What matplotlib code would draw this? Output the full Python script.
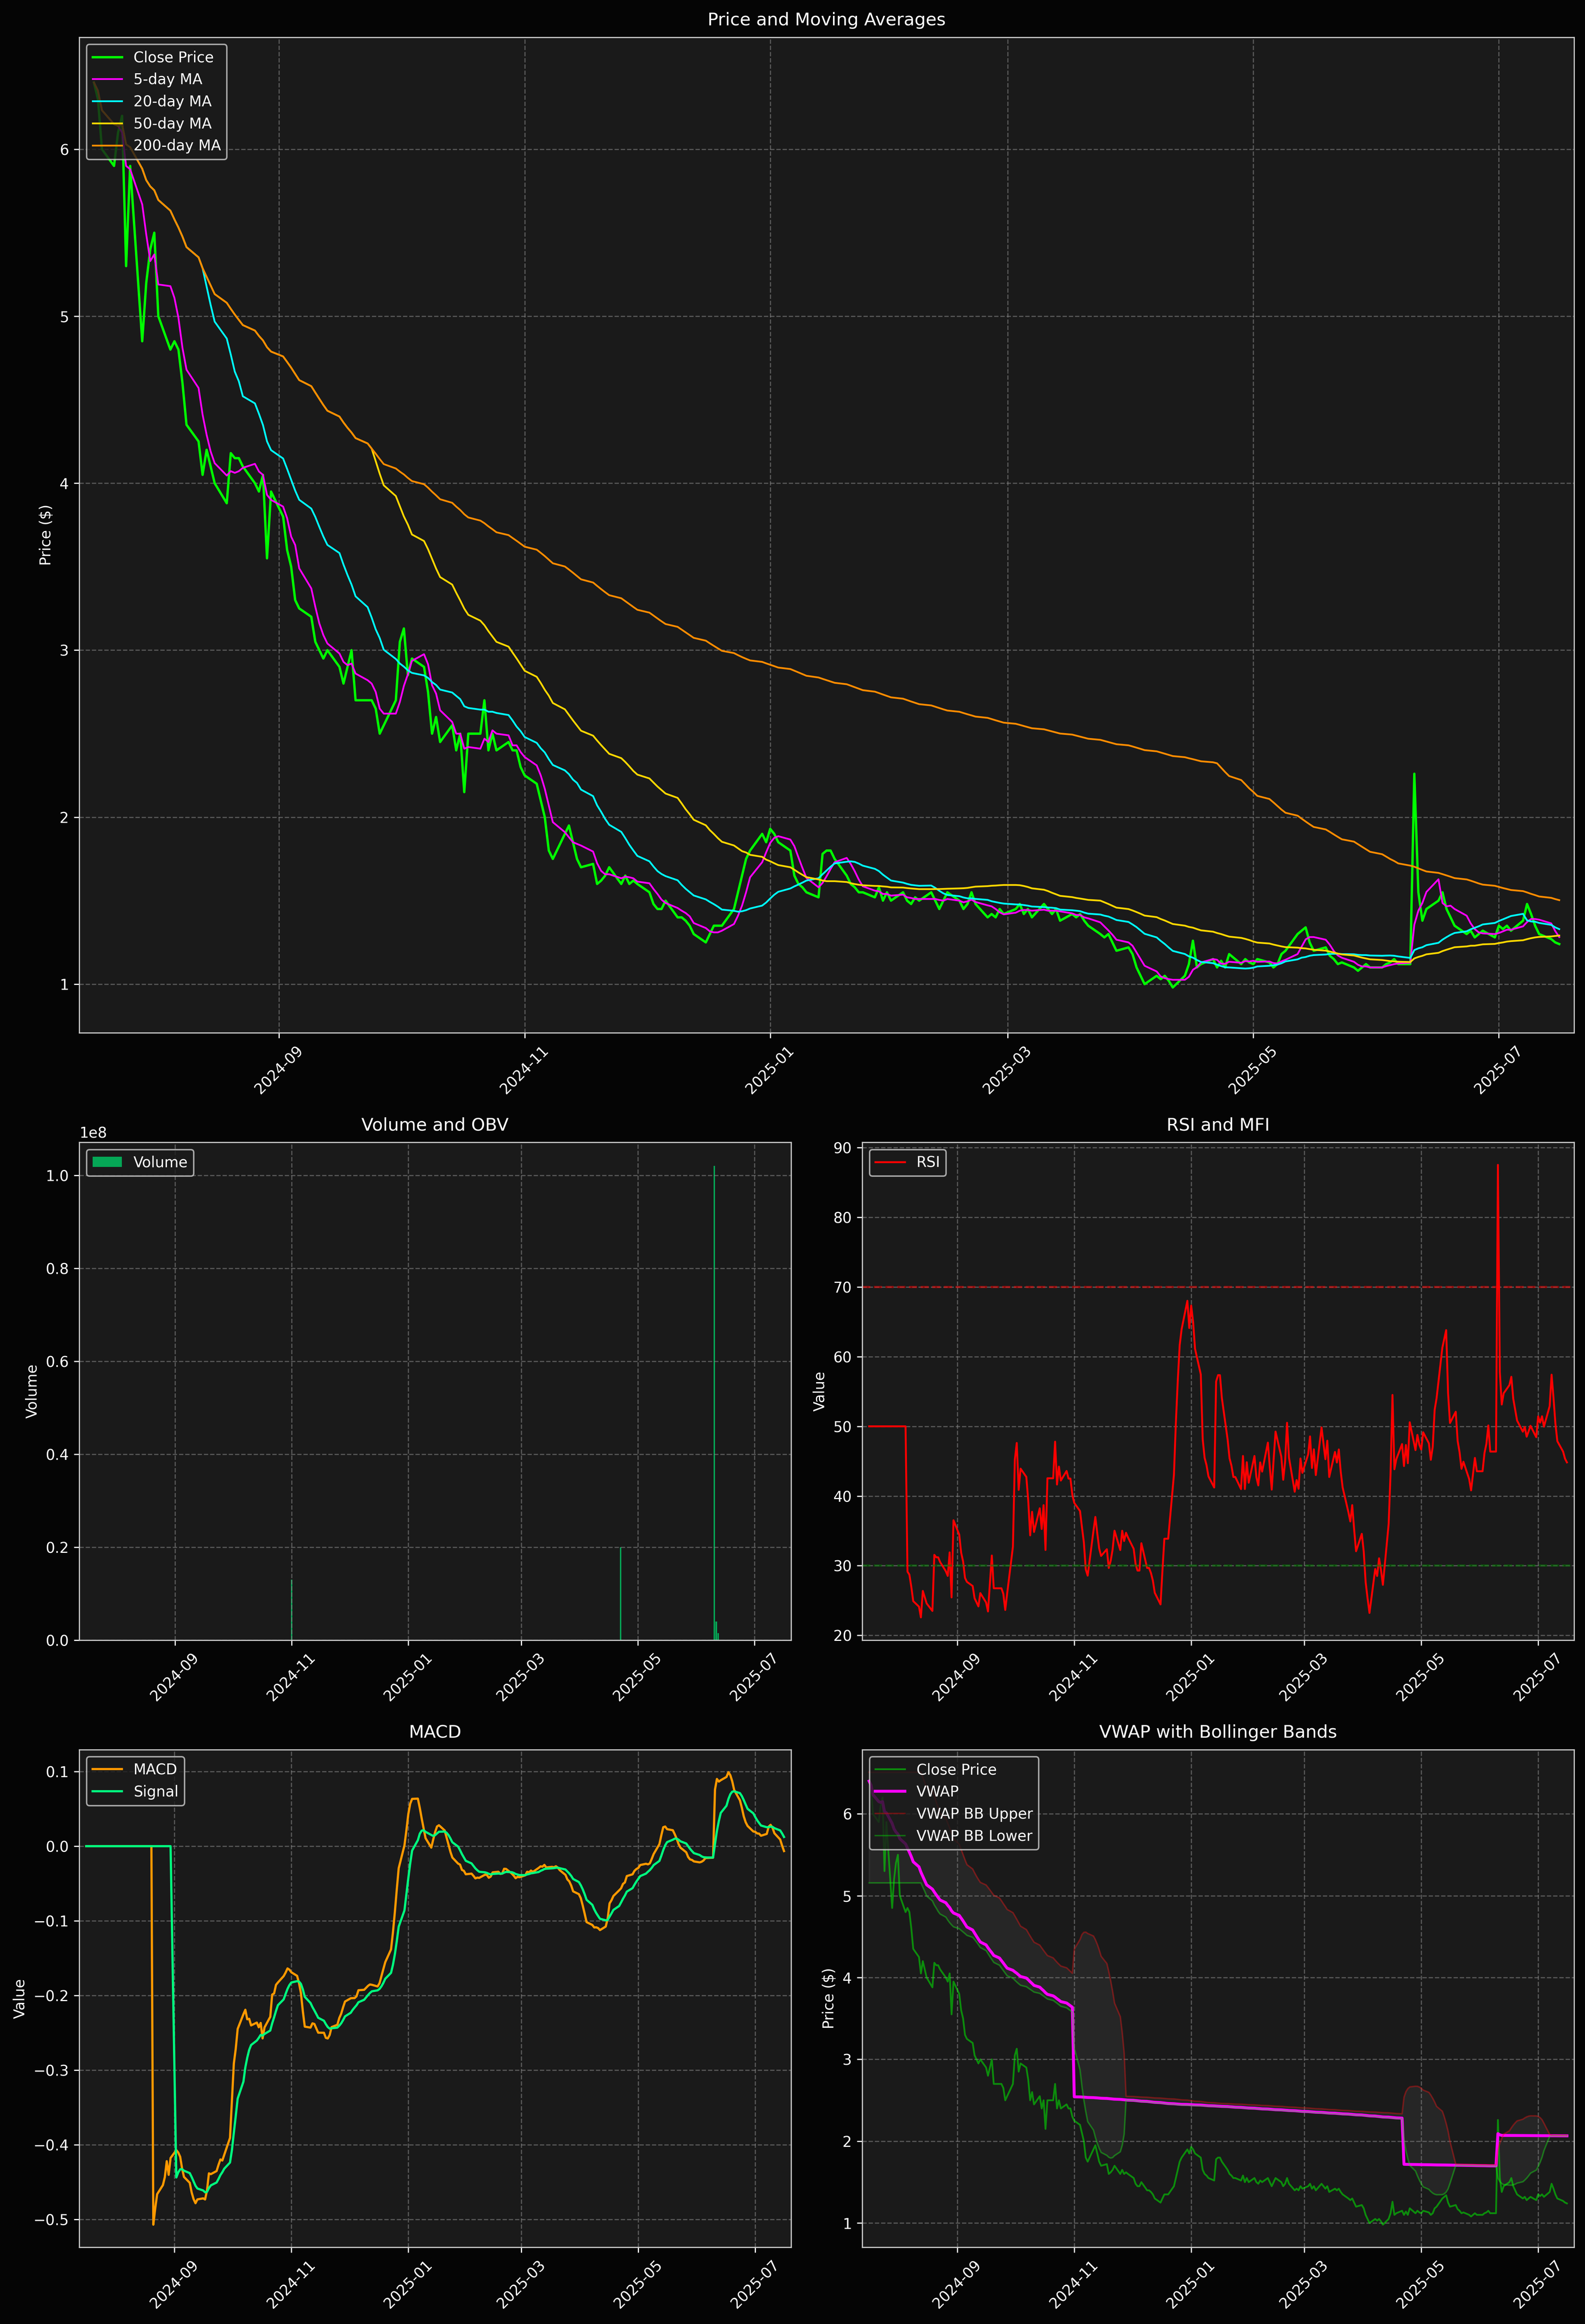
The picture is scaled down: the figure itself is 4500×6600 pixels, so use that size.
import numpy as np
import pandas as pd
import matplotlib
matplotlib.use("Agg")
import matplotlib.pyplot as plt
import matplotlib.dates as mdates

close = [6.4, 6.3, 6.0, 5.9, 6.1, 6.2, 5.3, 5.9, 4.85, 5.2, 5.4,
 5.5, 5.0, 4.8, 4.85, 4.8, 4.6, 4.35, 4.25, 4.05, 4.2, 4.1, 4.0, 3.88, 4.18, 4.15, 4.15, 4.1, 4.0, 3.95, 4.05, 3.55, 3.95,
 3.8, 3.6, 3.5, 3.3, 3.25, 3.2, 3.05, 3.0, 2.95, 3.0, 2.9, 2.8, 2.9, 3.0, 2.7, 2.7, 2.7, 2.65, 2.5, 2.55, 2.7,
 3.05, 3.13, 2.85, 2.95, 2.9, 2.75, 2.5, 2.6, 2.45, 2.55, 2.4, 2.5, 2.15, 2.5, 2.5, 2.7, 2.4, 2.5, 2.4, 2.45, 2.4, 2.4, 2.3,
 2.25, 2.2, 2.1, 2.0, 1.8, 1.75, 1.9, 1.95, 1.85, 1.75, 1.7, 1.72, 1.6, 1.62, 1.65, 1.7, 1.6, 1.65, 1.6, 1.62, 1.6,
 1.55, 1.48, 1.45, 1.45, 1.5, 1.4, 1.4, 1.38, 1.35, 1.3, 1.25, 1.3, 1.35, 1.35, 1.35, 1.45, 1.55, 1.65, 1.75, 1.8, 1.9, 1.85,
 1.93, 1.9, 1.85, 1.8, 1.65, 1.6, 1.58, 1.55, 1.52, 1.78, 1.8, 1.8, 1.75, 1.65, 1.6, 1.58, 1.55, 1.55, 1.52, 1.58, 1.5, 1.55, 1.5,
 1.55, 1.5, 1.48, 1.52, 1.5, 1.55, 1.5, 1.45, 1.5, 1.55, 1.5, 1.45, 1.48, 1.55, 1.48, 1.4, 1.42, 1.4, 1.45, 1.42,
 1.45, 1.48, 1.42, 1.45, 1.4, 1.48, 1.45, 1.42, 1.45, 1.38, 1.42, 1.4, 1.42, 1.38, 1.35, 1.3, 1.28, 1.3, 1.25, 1.2, 1.22,
 1.18, 1.1, 1.05, 1.0, 1.05, 1.03, 1.05, 1.02, 0.98, 1.05, 1.12, 1.26, 1.1, 1.12, 1.15, 1.1, 1.14, 1.1, 1.18, 1.12, 1.15, 1.13,
 1.12, 1.15, 1.13, 1.1, 1.12, 1.18, 1.2, 1.3, 1.32, 1.34, 1.25, 1.2, 1.22, 1.17, 1.15, 1.12, 1.13, 1.1, 1.08, 1.1, 1.12, 1.1,
 1.1, 1.12, 1.13, 1.15, 1.12, 1.12, 2.26, 1.55, 1.38, 1.45, 1.5, 1.55, 1.45, 1.4, 1.35, 1.3, 1.32, 1.28, 1.3, 1.32, 1.28,
 1.35, 1.33, 1.35, 1.32, 1.38, 1.48, 1.42, 1.35, 1.3, 1.27, 1.25, 1.24]

start_date = "2024-07-17"
base_volume = 45000
spike_dates = ["2024-11-01", "2025-04-22", "2025-06-10", "2025-06-11", "2025-06-12"]
spike_volumes = [1.3e7, 2.0e7, 1.02e8, 4.0e6, 1.5e6]

dates = pd.bdate_range(start_date, periods=len(close))
df = pd.DataFrame({"close": close}, index=dates)
df["volume"] = float(base_volume)
for d, v in zip(spike_dates, spike_volumes):
    df.loc[pd.Timestamp(d), "volume"] = v

c = df["close"]
ma5 = c.rolling(5, min_periods=1).mean()
ma20 = c.rolling(20, min_periods=1).mean()
ma50 = c.rolling(50, min_periods=1).mean()
ma200 = c.rolling(200, min_periods=1).mean()

delta = c.diff()
gain = delta.clip(lower=0).ewm(alpha=1/14, adjust=False, min_periods=14).mean()
loss = (-delta.clip(upper=0)).ewm(alpha=1/14, adjust=False, min_periods=14).mean()
rsi = (100 - 100 / (1 + gain / loss)).fillna(50)

ema12 = c.ewm(span=12, adjust=False, min_periods=26).mean()
ema26 = c.ewm(span=26, adjust=False, min_periods=26).mean()
macd_raw = ema12 - ema26
signal = macd_raw.ewm(span=9, adjust=False, min_periods=9).mean().fillna(0)
macd = macd_raw.fillna(0)

vwap = (c * df["volume"]).cumsum() / df["volume"].cumsum()
vm = vwap.rolling(20).mean()
vs = vwap.rolling(20).std()
bb_up = (vm + 2 * vs).bfill()
bb_lo = (vm - 2 * vs).bfill()

BG = "#050505"
AX = "#1a1a1a"
plt.rcParams.update({"text.color": "white", "axes.labelcolor": "white",
                     "xtick.color": "white", "ytick.color": "white",
                     "axes.edgecolor": "#cccccc", "font.size": 10})

fig = plt.figure(figsize=(15, 22), facecolor=BG)
gs = fig.add_gridspec(3, 2, height_ratios=[2, 1, 1], hspace=0.165, wspace=0.1,
                      left=0.05, right=0.993, top=0.984, bottom=0.033)
ax1 = fig.add_subplot(gs[0, :])
ax2 = fig.add_subplot(gs[1, 0])
ax3 = fig.add_subplot(gs[1, 1])
ax4 = fig.add_subplot(gs[2, 0])
ax5 = fig.add_subplot(gs[2, 1])

def style(ax, title, ylabel):
    ax.set_facecolor(AX)
    ax.set_title(title, fontsize=12, pad=8)
    ax.set_ylabel(ylabel)
    ax.grid(True, linestyle="--", color="gray", alpha=0.6)
    ax.xaxis.set_major_locator(mdates.MonthLocator(bymonth=[1, 3, 5, 7, 9, 11]))
    ax.xaxis.set_major_formatter(mdates.DateFormatter("%Y-%m"))
    ax.tick_params(axis="x", rotation=45)
    ax.margins(x=0.01)

def leg(ax):
    l = ax.legend(loc="upper left", facecolor=AX, edgecolor="#cccccc")
    for t in l.get_texts():
        t.set_color("white")

ax1.plot(dates, c, color="#00ff00", lw=1.6, label="Close Price")
ax1.plot(dates, ma5, color="#ff00ff", lw=1.2, label="5-day MA")
ax1.plot(dates, ma20, color="#00ffff", lw=1.2, label="20-day MA")
ax1.plot(dates, ma50, color="#ffd700", lw=1.2, label="50-day MA")
ax1.plot(dates, ma200, color="#ff8c00", lw=1.2, label="200-day MA")
style(ax1, "Price and Moving Averages", "Price ($)")
leg(ax1)

ax2.bar(dates, df["volume"], width=0.8, color="#00cc66", alpha=0.8, label="Volume")
style(ax2, "Volume and OBV", "Volume")
leg(ax2)

ax3.plot(dates, rsi, color="red", lw=1.3, label="RSI")
ax3.axhline(70, color="red", ls="--", alpha=0.5)
ax3.axhline(30, color="green", ls="--", alpha=0.5)
style(ax3, "RSI and MFI", "Value")
leg(ax3)

ax4.plot(dates, macd, color="#ff9900", lw=1.5, label="MACD")
ax4.plot(dates, signal, color="#00ff7f", lw=1.5, label="Signal")
style(ax4, "MACD", "Value")
leg(ax4)

ax5.plot(dates, c, color="#00ff00", lw=1.2, alpha=0.5, label="Close Price")
ax5.plot(dates, vwap, color="#ff00ff", lw=2, label="VWAP")
ax5.plot(dates, bb_up, color="red", lw=1, alpha=0.35, label="VWAP BB Upper")
ax5.plot(dates, bb_lo, color="#00ff00", lw=1, alpha=0.35, label="VWAP BB Lower")
ax5.fill_between(dates, bb_lo, bb_up, color="gray", alpha=0.12)
style(ax5, "VWAP with Bollinger Bands", "Price ($)")
leg(ax5)

fig.savefig("out.png", dpi=300, facecolor=BG)
